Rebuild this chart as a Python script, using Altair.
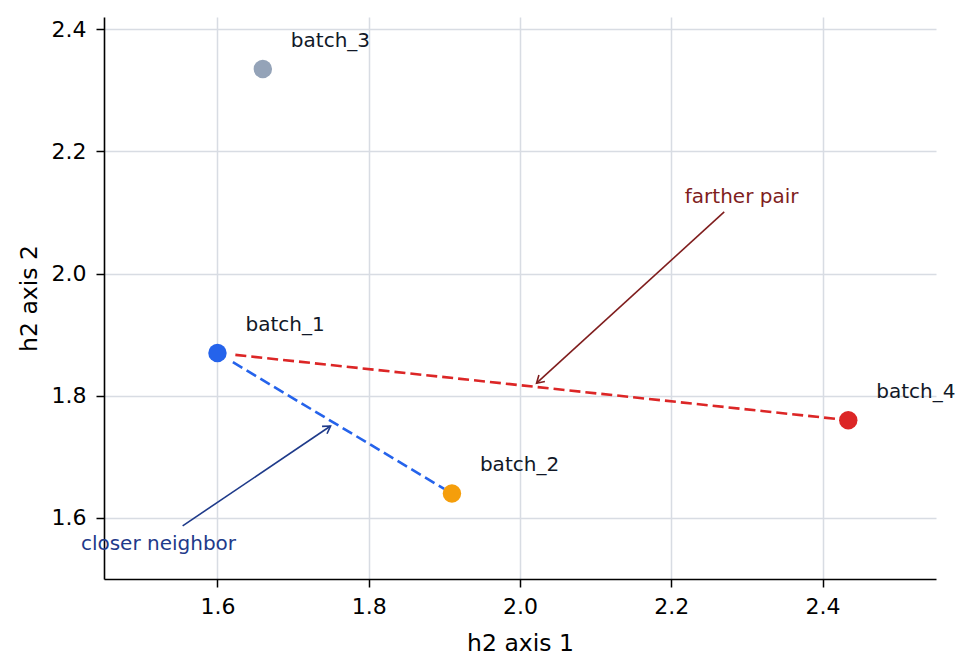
import math
import altair as alt
import pandas as pd

# ---- data ----
names = ["batch_1", "batch_2", "batch_3", "batch_4"]
h2_x = [1.60, 1.91, 1.66, 2.434]
h2_y = [1.87, 1.64, 2.335, 1.76]
point_colors = ["#2563eb", "#f59e0b", "#94a3b8", "#dc2626"]

pair_a = ["batch_1", "batch_1"]
pair_b = ["batch_2", "batch_4"]
pair_labels = ["closer neighbor", "farther pair"]
pair_colors = ["#2563eb", "#dc2626"]
note_colors = ["#1e3a8a", "#7f1d1d"]
note_x = [1.522, 2.293]
note_y = [1.557, 2.125]
tail_x = [1.554, 2.270]
tail_y = [1.587, 2.101]

x_ticks = [1.6, 1.8, 2.0, 2.2, 2.4]
y_ticks = [1.6, 1.8, 2.0, 2.2, 2.4]
x_dom = [1.45, 2.55]
y_dom = [1.5, 2.42]

W, H = 832, 562

pts = pd.DataFrame({"name": names, "x": h2_x, "y": h2_y, "color": point_colors})
pos = {n: (a, b) for n, a, b in zip(names, h2_x, h2_y)}

sx = W / (x_dom[1] - x_dom[0])
sy = H / (y_dom[1] - y_dom[0])


def shrink(x1, y1, x2, y2, s1, s2):
    """Shorten a segment by s1 px at its start and s2 px at its end (pixel space)."""
    dx = (x2 - x1) * sx
    dy = (y2 - y1) * sy
    L = math.hypot(dx, dy)
    ux, uy = dx / L, dy / L
    return (x1 + ux * s1 / sx, y1 + uy * s1 / sy, x2 - ux * s2 / sx, y2 - uy * s2 / sy)


seg_rows, arrow_rows, head_rows, note_rows = [], [], [], []
for i, (a, b) in enumerate(zip(pair_a, pair_b)):
    (x1, y1), (x2, y2) = pos[a], pos[b]
    a1, b1, a2, b2 = shrink(x1, y1, x2, y2, 18, 9)
    seg_rows.append({"pair": pair_labels[i], "x": a1, "y": b1, "x2": a2, "y2": b2, "color": pair_colors[i]})
    mx, my = (x1 + x2) / 2, (y1 + y2) / 2
    t1, u1, t2, u2 = shrink(tail_x[i], tail_y[i], mx, my, 0, 5)
    arrow_rows.append({"pair": pair_labels[i], "x": t1, "y": u1, "x2": t2, "y2": u2, "color": note_colors[i]})
    dxp = (t2 - t1) * sx
    dyp = -(u2 - u1) * sy
    ang = math.degrees(math.atan2(dxp, -dyp)) % 360
    head_rows.append({"x": t2, "y": u2, "angle": ang, "color": note_colors[i]})
    note_rows.append({"label": pair_labels[i], "x": note_x[i], "y": note_y[i], "color": note_colors[i]})

segs = pd.DataFrame(seg_rows)
arrows = pd.DataFrame(arrow_rows)
heads = pd.DataFrame(head_rows)
notes = pd.DataFrame(note_rows)

FONT = "DejaVu Sans"
xs = alt.Scale(domain=x_dom, nice=False, zero=False)
ys = alt.Scale(domain=y_dom, nice=False, zero=False)

common = dict(format=".1f", grid=True, gridColor="#d8dce3", gridWidth=1.5,
              domainColor="black", domainWidth=1.6, tickColor="black", tickSize=8,
              tickWidth=1.5, labelFontSize=22, labelColor="black", labelFont=FONT,
              titleFont=FONT, titleFontSize=23.5, titleFontWeight="normal", titleColor="black")

X = alt.X("x:Q", scale=xs, axis=alt.Axis(title="h2 axis 1", values=x_ticks,
                                         labelPadding=9, titlePadding=14, **common))
Y = alt.Y("y:Q", scale=ys, axis=alt.Axis(title="h2 axis 2", values=y_ticks,
                                         labelPadding=10, titlePadding=10, **common))

base_x = alt.X("x:Q", scale=xs)
base_y = alt.Y("y:Q", scale=ys)

axes_layer = alt.Chart(pts).mark_point(opacity=0).encode(x=X, y=Y)

seg_layer = alt.Chart(segs).mark_rule(strokeWidth=2.6, strokeDash=[11, 5]).encode(
    x=base_x, y=base_y, x2="x2:Q", y2="y2:Q", color=alt.Color("color:N", scale=None))

arrow_layer = alt.Chart(arrows).mark_rule(strokeWidth=1.6).encode(
    x=base_x, y=base_y, x2="x2:Q", y2="y2:Q", color=alt.Color("color:N", scale=None))

head_layer = alt.Chart(heads).mark_point(
    shape="M -0.55 0.9 L 0 0 L 0.55 0.9", filled=False, size=260, strokeWidth=1.6, opacity=1
).encode(x=base_x, y=base_y, angle=alt.Angle("angle:Q", scale=None),
         stroke=alt.Stroke("color:N", scale=None))

pt_layer = alt.Chart(pts).mark_circle(size=340, opacity=1).encode(
    x=base_x, y=base_y, color=alt.Color("color:N", scale=None))

lbl_layer = alt.Chart(pts).mark_text(
    align="left", baseline="middle", dx=28, dy=-28, fontSize=20, font=FONT, color="#111827"
).encode(x=base_x, y=base_y, text="name:N")

note_layer = alt.Chart(notes).mark_text(
    align="center", baseline="middle", fontSize=20, font=FONT
).encode(x=base_x, y=base_y, text="label:N", color=alt.Color("color:N", scale=None))

chart = alt.layer(axes_layer, seg_layer, arrow_layer, head_layer, pt_layer, lbl_layer, note_layer).properties(
    width=W, height=H,
    background="white",
    autosize=alt.AutoSizeParams(type="none"),
    padding={"left": 104, "top": 17, "right": 36, "bottom": 92},
).configure_view(stroke=None)

chart.save("out.html", embed_options={"renderer": "svg", "actions": False})
